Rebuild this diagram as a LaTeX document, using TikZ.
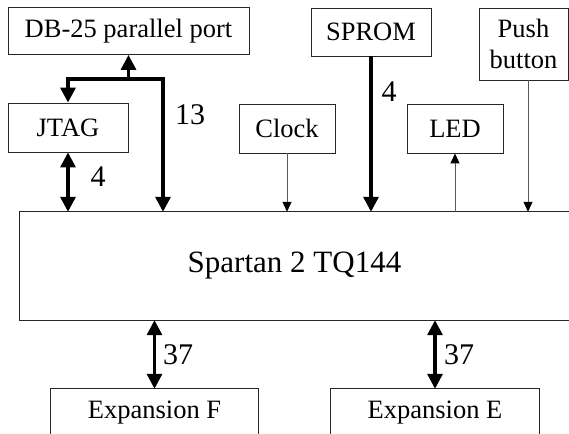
\documentclass[tikz,border=0pt]{standalone}
\usepackage{fontspec}
\setmainfont{Liberation Serif}
\usetikzlibrary{arrows.meta}
\begin{document}
\begin{tikzpicture}[x=1pt,y=-1pt,
  box/.style={draw=black!85,line width=0.9pt,inner sep=0pt,align=center,
    font=\fontsize{26.5}{31}\selectfont},
  plain/.style={inner sep=0pt,align=center,font=\fontsize{26.5}{31}\selectfont},
  lbl/.style={inner sep=0pt,font=\fontsize{30}{34}\selectfont},
  thickline/.style={line width=3.2pt,-{Triangle[length=15pt,width=15pt]}},
  thickboth/.style={line width=3.2pt,{Triangle[length=15pt,width=15pt]}-{Triangle[length=15pt,width=15pt]}},
  thinline/.style={draw=black!65,line width=1pt,-{Triangle[length=10pt,width=9pt,fill=black,color=black]}}]
\useasboundingbox (0,0) rectangle (569,433);
% boxes
\node[box,minimum width=241pt,minimum height=47pt] (db) at (128.5,31) {DB-25 parallel port};
\node[box,minimum width=120pt,minimum height=49pt] (jtag) at (68,127.5) {JTAG};
\node[box,minimum width=96pt,minimum height=49pt] (clock) at (287,128.5) {Clock};
\node[box,minimum width=120pt,minimum height=48pt] (sprom) at (371,32) {SPROM};
\node[box,minimum width=96pt,minimum height=49pt] (led) at (455,128.5) {LED};
\node[box,minimum width=89pt,minimum height=72pt] (push) at (523.5,44) {Push\\button};
% Spartan (right side beyond picture)
\node[plain,minimum width=549pt,minimum height=108pt,font=\fontsize{31}{36}\selectfont] (sp) at (294.5,266) {Spartan 2 TQ144};
\draw[black!85,line width=0.9pt] (sp.north east) -- (sp.north west) -- (sp.south west) -- (sp.south east);
% Expansion boxes (bottoms beyond picture)
\node[plain,minimum width=207pt,minimum height=48pt] (expf) at (154.5,413) {Expansion F};
\node[plain,minimum width=208pt,minimum height=48pt] (expe) at (435,413) {Expansion E};
\draw[black!85,line width=0.9pt] (expf.south west) -- (expf.north west) -- (expf.north east) -- (expf.south east);
\draw[black!85,line width=0.9pt] (expe.south west) -- (expe.north west) -- (expe.north east) -- (expe.south east);
% DB-25 net
\coordinate (j) at (128.5,79);
\coordinate (c13) at (163,79);
\draw[thickline] (j) -- (db.south);
\draw[thickboth] (jtag.north) |- (j) -| (c13 |- sp.north);
\draw[thickboth] (jtag.south) -- (jtag.south |- sp.north);
\draw[thinline] (clock.south) -- (clock.south |- sp.north);
\draw[thickline] (sprom.south) -- (sprom.south |- sp.north);
\draw[thinline] (led.south |- sp.north) -- (led.south);
\draw[thinline] ([xshift=4.5pt]push.south) -- ([xshift=4.5pt]push.south |- sp.north);
\draw[thickboth] (expf.north |- sp.south) -- (expf.north);
\draw[thickboth] (expe.north |- sp.south) -- (expe.north);
% labels
\node[lbl] (l13) at (190,115) {13};
\node[lbl] (l4a) at (98,177) {4};
\node[lbl] (l4b) at (389,92) {4};
\node[lbl] (l37f) at (178,355) {37};
\node[lbl] (l37e) at (459,355) {37};
\end{tikzpicture}
\end{document}
